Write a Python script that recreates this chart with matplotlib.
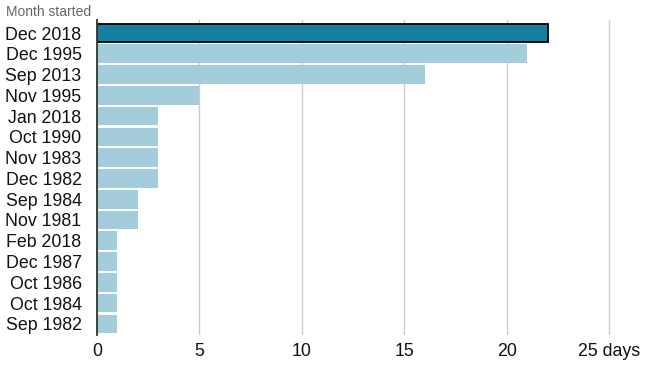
import matplotlib.pyplot as plt

plt.rcParams['font.family'] = ['Liberation Sans', 'DejaVu Sans']

months = ['Dec 2018', 'Dec 1995', 'Sep 2013', 'Nov 1995', 'Jan 2018',
          'Oct 1990', 'Nov 1983', 'Dec 1982', 'Sep 1984', 'Nov 1981',
          'Feb 2018', 'Dec 1987', 'Oct 1986', 'Oct 1984', 'Sep 1982']
days = [22, 21, 16, 5, 3, 3, 3, 3, 2, 2, 1, 1, 1, 1, 1]
highlight = 'Dec 2018'

tick_vals = [0, 5, 10, 15, 20, 25]
tick_labels = ['0', '5', '10', '15', '20', '25 days']

fig = plt.figure(figsize=(6.5, 3.66), dpi=100)
ax = fig.add_axes([0.149, 0.085, 0.851, 0.86])

pos = list(range(len(months)))
colors = ['#167fa0' if m == highlight else '#a3cdda' for m in months]
edges = ['black' if m == highlight else 'none' for m in months]
lws = [1.3 if m == highlight else 0 for m in months]
ax.barh(pos, days, height=0.9, color=colors, edgecolor=edges,
        linewidth=lws, zorder=3)

ax.set_ylim(14.53, -0.62)
ax.set_xlim(0, 27)
ax.set_yticks(pos)
ax.set_yticklabels(months, fontsize=12.8, color='#111111')
ax.set_xticks(tick_vals)
ax.set_xticklabels(tick_labels, fontsize=12.8, color='#111111')
ax.tick_params(axis='both', length=0)
ax.tick_params(axis='y', pad=11)
ax.tick_params(axis='x', pad=6)

ax.grid(axis='x', color='#cccccc', linewidth=1, zorder=0)
for s in ['top', 'right', 'bottom']:
    ax.spines[s].set_visible(False)
ax.spines['left'].set_color('#333333')
ax.spines['left'].set_linewidth(1.3)
ax.spines['left'].set_zorder(4)

fig.text(0.009, 0.948, 'Month started', fontsize=10, color='#666666',
         ha='left', va='bottom')

fig.savefig('out.png', dpi=100)
